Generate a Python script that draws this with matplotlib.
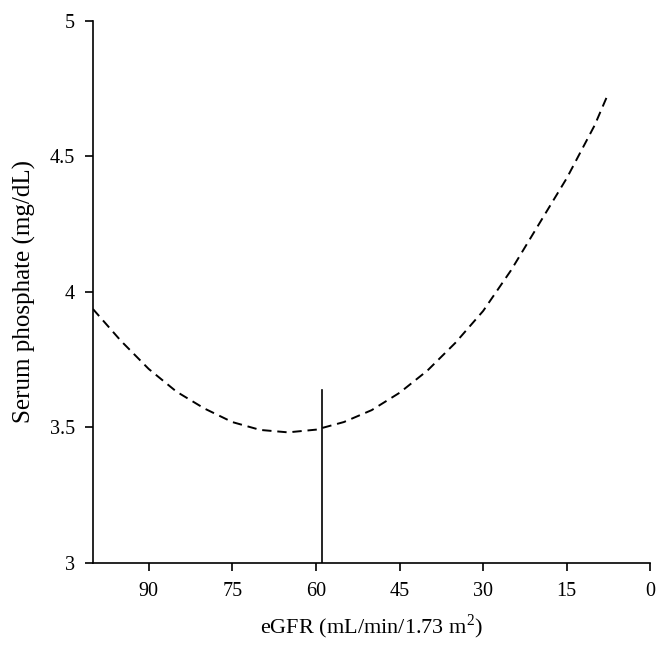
import matplotlib
matplotlib.use("Agg")
import matplotlib.pyplot as plt

# Data
egfr = [100, 95, 90, 85, 80, 75, 70, 65, 60, 55, 50, 45, 40, 35, 30, 25, 20, 15, 10, 7.6]
phosphate = [3.937, 3.82, 3.716, 3.632, 3.570, 3.52, 3.491, 3.482, 3.492, 3.52,
             3.564, 3.628, 3.71, 3.812, 3.93, 4.08, 4.25, 4.42, 4.615, 4.73]
threshold_x = 59
threshold_top = 3.637
xticks = [90, 75, 60, 45, 30, 15, 0]
yticks = [3, 3.5, 4, 4.5, 5]
ytick_labels = ["3", "3.5", "4", "4.5", "5"]

plt.rcParams['font.family'] = ['Liberation Serif', 'DejaVu Serif']
plt.rcParams['mathtext.fontset'] = 'custom'
plt.rcParams['mathtext.rm'] = 'Liberation Serif'

fig = plt.figure(figsize=(6.65, 6.48), dpi=100)
ax = fig.add_axes([0.1398, 0.1312, 0.978 - 0.1398, 0.9676 - 0.1312])

ax.plot(egfr, phosphate, color='black', lw=1.4, linestyle=(0, (4.8, 3.0)))
ax.plot([threshold_x, threshold_x], [3, threshold_top], color='black', lw=1.2)

ax.set_xlim(100, 0)
ax.set_ylim(3, 5)
ax.set_xticks(xticks)
ax.set_xticklabels([str(t) for t in xticks])
ax.set_yticks(yticks)
ax.set_yticklabels(ytick_labels)

for s in ['top', 'right']:
    ax.spines[s].set_visible(False)
for s in ['left', 'bottom']:
    ax.spines[s].set_linewidth(1.2)

ax.tick_params(axis='both', direction='out', length=6, width=1.2, labelsize=14.5)
ax.tick_params(axis='x', pad=8)
ax.tick_params(axis='y', pad=7)

ax.set_xlabel("eGFR (mL/min/1.73 m$^{2}$)", fontsize=16, labelpad=8)
ax.set_ylabel("Serum phosphate (mg/dL)", fontsize=18, labelpad=10)

fig.savefig("out.png", dpi=100)
